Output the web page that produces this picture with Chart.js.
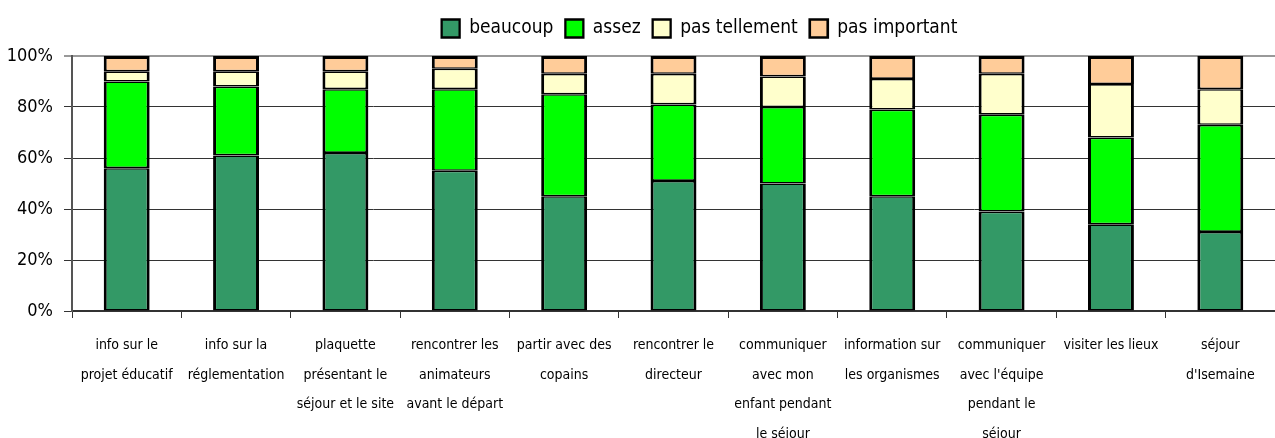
<!DOCTYPE html>
<html>
<head>
<meta charset="utf-8">
<script src="https://cdn.jsdelivr.net/npm/chart.js@4"></script>
<style>
  html, body { margin: 0; padding: 0; background: #fff; }
  #wrap { width: 1275px; height: 438px; }
</style>
</head>
<body>
<div id="wrap"><canvas id="chart" width="1275" height="438"></canvas></div>
<script>
const categories = [
    ["info sur le", "projet éducatif"],
    ["info sur la", "réglementation"],
    ["plaquette", "présentant le", "séjour et le site"],
    ["rencontrer les", "animateurs", "avant le départ"],
    ["partir avec des", "copains"],
    ["rencontrer le", "directeur"],
    ["communiquer", "avec mon", "enfant pendant", "le séjour"],
    ["information sur", "les organismes"],
    ["communiquer", "avec l'équipe", "pendant le", "séjour"],
    ["visiter les lieux"],
    ["séjour", "d'Isemaine"]
];

const beaucoup = [56, 61, 62, 55, 45, 51, 50, 45, 39, 34, 31];
const assez = [34, 27, 25, 32, 40, 30, 30, 34, 38, 34, 42];
const pasTellement = [4, 6, 7, 8, 8, 12, 12, 12, 16, 21, 14];
const pasImportant = [6, 6, 6, 5, 7, 7, 8, 9, 7, 11, 13];

const seriesLabels = ["beaucoup", "assez", "pas tellement", "pas important"];
const seriesColors = ["#339966", "#00ff00", "#ffffcc", "#ffcc99"];

const fontFamily = "'Liberation Sans Narrow', 'DejaVu Sans Condensed', sans-serif";

function makeDataset(index, values) {
    const isTop = index === seriesLabels.length - 1;
    return {
        label: seriesLabels[index],
        data: values,
        backgroundColor: seriesColors[index],
        borderColor: "#000",
        borderWidth: { left: 3, right: 3, top: isTop ? 3 : 1.6, bottom: 1.6 },
        borderSkipped: false,
        barPercentage: 0.42,
        categoryPercentage: 1
    };
}

// nudge the legend a bit to the right, like the original
const legendShift = {
    id: 'legendShift',
    afterLayout(chart) {
        const legend = chart.legend;
        legend.left += 62;
        legend.right += 62;
        legend.top -= 8;
        legend.bottom -= 8;
    }
};

new Chart(document.getElementById("chart"), {
    type: 'bar',
    data: {
        labels: categories,
        datasets: [
            makeDataset(0, beaucoup),
            makeDataset(1, assez),
            makeDataset(2, pasTellement),
            makeDataset(3, pasImportant)
        ]
    },
    plugins: [legendShift],
    options: {
        responsive: false,
        animation: false,
        layout: { padding: { top: 15, right: 0, left: 0, bottom: 0 } },
        plugins: {
            tooltip: { enabled: false },
            legend: {
                position: 'top',
                labels: {
                    color: "#000",
                    font: { family: fontFamily, size: 19 },
                    boxWidth: 18,
                    boxHeight: 18,
                    padding: 12
                }
            }
        },
        scales: {
            x: {
                stacked: true,
                afterFit: (scale) => { scale.height = 127; },
                border: { color: "#333", width: 2 },
                grid: {
                    offset: true,
                    drawOnChartArea: false,
                    drawTicks: true,
                    tickLength: 7,
                    color: "#333"
                },
                ticks: {
                    color: "#000",
                    maxRotation: 0,
                    autoSkip: false,
                    padding: 13,
                    font: { family: fontFamily, size: 14, lineHeight: 2.1 }
                }
            },
            y: {
                stacked: true,
                min: 0,
                max: 100,
                afterFit: (scale) => { scale.width = 72; },
                border: { color: "#555", width: 2 },
                grid: {
                    color: (ctx) => ctx.tick && ctx.tick.value === 100 ? "#999" : "#333",
                    lineWidth: (ctx) => ctx.tick && ctx.tick.value === 100 ? 2 : 1,
                    tickLength: 8
                },
                ticks: {
                    stepSize: 20,
                    color: "#000",
                    padding: 11,
                    font: { family: fontFamily, size: 18 },
                    callback: (value) => value + "%"
                }
            }
        }
    }
});
</script>
</body>
</html>
